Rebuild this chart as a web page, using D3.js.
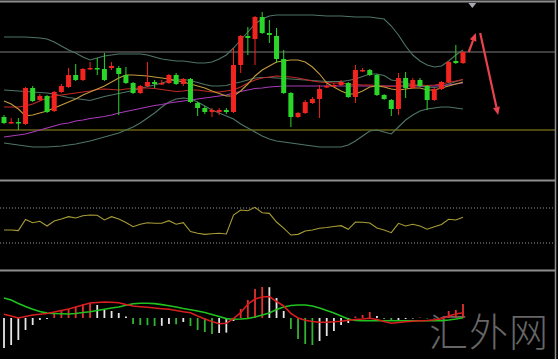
<!DOCTYPE html>
<html><head><meta charset="utf-8">
<script src="https://cdn.jsdelivr.net/npm/d3@7"></script>
<style>html,body{margin:0;padding:0;background:#000;overflow:hidden}</style>
</head><body><svg id="c" width="558" height="359"></svg>
<script>
// ---- candles (price units) ----
const openP  = [83,77,78,76,112,100,104,89,108,113, 125,120,131,132,131,132,132,125,117,107, 114,118,116,117,125,116,121,97,92,88, 88,90,88,135,164,161,183,167,164,141, 107,83,87,97,101,113,114,115,117,103, 129,130,125,105,100,91,122,112,120,114, 100,111,118,139,137];
const highP  = [85,82,82,113,114,106,105,109,116,132, 136,132,138,142,147,138,134,133,118,115, 138,120,120,126,127,122,122,98,94,92, 92,92,152,165,173,184,188,180,172,150, 108,88,100,103,115,116,117,120,118,135, 132,131,126,106,101,127,128,122,122,115, 112,119,139,155,149];
const lowP   = [76,76,70,75,98,99,87,88,107,112, 119,119,130,125,119,130,85,116,106,106, 113,112,115,116,115,114,97,84,86,83, 85,86,87,127,145,135,166,157,137,106, 73,82,86,96,82,112,113,114,102,97, 128,124,104,100,84,85,102,111,113,90, 99,110,117,136,136];
const closeP = [77,78,77,112,99,104,88,108,114,125, 120,131,132,131,120,134,126,117,107,114, 118,116,117,125,116,121,98,92,88,90, 90,88,135,164,162,183,167,165,141,107, 83,87,98,101,111,114,115,118,103,130, 130,125,105,101,91,122,112,120,114,100, 111,118,138,137,148];
// ---- overlays ----
const bbUpper = [163,163,163,163,162.5,162,161,158,154,150, 147,143,140,142,144,145,146,146,146,146, 145,143,141,140,139,139,138,137,137,138, 141,145,152,160,168,176,181,184,185,185, 185,185,185,185,184.5,184,184,184,183.5,183, 183,183,182,181,174,165,154,145,139,135, 133,134,139,145,150];
const bbMid = [110,109.5,109,108.5,108,107.5,107,106,104,102.5, 101.5,100.5,99.5,101.5,103.5,105,106.5,108,109.5,111.5, 113.5,115,117,119,120,120.5,119.5,117.5,115.5,114, 114,114.5,116.5,118,120,122,122.5,122.5,122,121.5, 121,120.5,120,119.5,119,118.5,118.5,118.5,119.5,121, 123.5,126,126,124.5,120,119,117,115,114,113, 112.5,113.5,116,118.5,120.5];
const bbLower = [57,56,55,54,53,53,53,53.5,54,55, 56,57.5,59,61,63,65,67,70,73,77, 82,87,93,98,101,102,101,98,94,90, 87,84,81,76,72,68,64,61,59,58, 57,56,55,54,53,53,53,53,55,59, 64,69,70,68,66,73,80,85,89,91, 92,93,93,92,91];
const maFast = [99,96,91,84,85,87,89,92,95,98, 101,105,108,111,114,118,122,125,125,124.5, 124,123,122,121,119.5,118,116,114,112,109, 106.5,104,104,109,116,124,130,134,138,139, 140,140,138,133,126,117,113,109,106,106, 109,113,114,113,111,110,111,112,112,110, 110,112,114,116,118];
const maMid = [93,93,93,94,96,99,102,104,105,106, 107,108,109,110.5,111,110.5,110,111,111.5,112, 112,111.5,110.5,109.5,108.5,109,110,110,109,108, 108,109,110,113,117,120,122,123,124,123.5, 123,122,120.5,119,118,117.5,117,117,116,115.5, 115,115,114.5,114,113.5,114,114.5,115,115,114.5, 115,116,117.5,119,120.5];
const maSlow = [63,64,65,66,68,70,72,74,76,77, 79,80,81.5,82.5,83.5,85,87,88.5,90,91.5, 93,94.5,95.5,97,98,99,100,101,102,103, 104,105,107,108.5,110,111.5,112,113,113.5,114, 114,114,114,114,114,114,114,114,114,114, 114,114,114,114,114,114,114,114,114,114, 114,114.5,115,116,117];
const levelLines = [148, 70];
// ---- RSI ----
const rsi = [44.9,44.9,44.1,56.9,53.2,54.8,49.4,55.1,57.4,60.1, 58.6,61.2,62.0,61.7,56.3,60.1,57.4,53.4,48.6,51.4, 53.2,52.5,52.5,55.5,51.4,53.2,43.1,41.1,39.9,40.6, 41.1,40.3,62.0,67.7,66.9,70.8,64.6,63.9,54.0,47.1, 39.1,39.9,43.7,44.9,46.8,47.7,48.9,49.8,45.7,54.0, 53.7,52.9,47.1,44.9,41.8,52.5,49.4,51.4,49.4,45.7, 48.6,51.1,57.1,56.3,59.4];
const rsiLevels = [70, 30];
// ---- MACD ----
const dif = [0.038,0.02,0,0.015,0.03,0.037,0.045,0.06,0.075,0.09, 0.11,0.13,0.15,0.155,0.16,0.157,0.152,0.135,0.12,0.113, 0.107,0.10,0.093,0.087,0.075,0.063,0.053,0.02,-0.01,-0.035, -0.057,-0.053,-0.005,0.053,0.14,0.19,0.21,0.215,0.165,0.12, 0.047,0,-0.023,-0.035,-0.043,-0.042,-0.038,-0.033,-0.023,-0.015, -0.01,-0.003,-0.015,-0.035,-0.053,-0.045,-0.038,-0.033,-0.028,-0.025, -0.018,-0.007,0.02,0.04,0.053];
const dea = [0.201,0.18,0.145,0.115,0.088,0.065,0.049,0.045,0.042,0.04, 0.045,0.055,0.063,0.075,0.088,0.10,0.11,0.127,0.143,0.147, 0.147,0.144,0.134,0.123,0.11,0.095,0.083,0.07,0.055,0.036, 0.015,-0.006,-0.013,-0.01,-0.005,0.01,0.03,0.05,0.085,0.11, 0.125,0.13,0.13,0.12,0.10,0.075,0.05,0.02,-0.01,-0.025, -0.027,-0.027,-0.027,-0.027,-0.027,-0.027,-0.027,-0.027,-0.027,-0.027, -0.027,-0.026,-0.02,-0.01,0.003];
const hist = [-0.30,-0.27,-0.22,-0.12,-0.07,-0.02,-0.01,0.05,0.07,0.09, 0.11,0.14,0.15,0.13,0.09,0.07,0.05,0.015,-0.06,-0.07, -0.072,-0.08,-0.078,-0.06,-0.063,-0.04,-0.08,-0.12,-0.14,-0.16, -0.15,-0.146,-0.03,0.09,0.18,0.29,0.31,0.308,0.20,0.07, -0.11,-0.21,-0.26,-0.27,-0.23,-0.18,-0.13,-0.07,-0.05,0.015, 0.03,0.06,0.02,-0.01,-0.03,-0.02,-0.01,-0.005,0.005,-0.005, -0.003,0.01,0.07,0.08,0.14];
// ---- annotations (index, price) ----
const arrowUp = [[64.8,148],[65.8,167]];
const arrowDown = [[66.4,167],[68.9,85]];
const watermark = "汇外网";

const svg = d3.select("#c");
const W = 558;
svg.append("rect").attr("width",W).attr("height",359).attr("fill","#000");

const x = d3.scaleLinear().domain([0,64]).range([4,463]);
const yP = d3.scaleLinear().domain([21,197]).range([179,3]);
const yR = d3.scaleLinear().domain([0,100]).range([269.25,181.75]);
const yM = d3.scaleLinear().domain([-0.39,0.47]).range([357,271]);
const idx = d3.range(openP.length);

const RED = "#f2241f", GREEN = "#2bd62b";

const defs = svg.append("defs");
[["pMain",3,178],["pRsi",182,268],["pMacd",272,358]].forEach(([id,a,b])=>{
  defs.append("clipPath").attr("id",id).append("rect").attr("x",0).attr("y",a).attr("width",555).attr("height",b-a);
});

// watermark (behind)
svg.append("text").attr("x",429).attr("y",346).attr("font-family","'Noto Sans CJK SC'")
  .attr("font-size",39).attr("font-weight",300).attr("fill","#666666").attr("letter-spacing",1).text(watermark);

const main = svg.append("g").attr("clip-path","url(#pMain)");
// level lines
main.selectAll("line.lvl").data(levelLines).join("line")
  .attr("x1",0).attr("x2",555).attr("y1",d=>yP(d)).attr("y2",d=>yP(d))
  .attr("stroke",(d,i)=>i===0?"#7e7e7e":"#9c931a").attr("stroke-width",1);

const line = (arr, yS) => d3.line().x((d,i)=>x(i)).y(d=>yS(d))(arr);
[[bbUpper,"#4f7565"],[bbMid,"#4f7565"],[bbLower,"#4f7565"],[maSlow,"#a83ab8"],[maMid,"#c02a26"],[maFast,"#c49a3c"]].forEach(([a,c])=>{
  main.append("path").attr("d",line(a,yP)).attr("fill","none").attr("stroke",c).attr("stroke-width",1.1);
});

const cg = main.selectAll("g.cd").data(idx).join("g");
cg.append("line").attr("x1",i=>x(i)).attr("x2",i=>x(i))
  .attr("y1",i=>yP(highP[i])).attr("y2",i=>yP(lowP[i]))
  .attr("stroke",i=>closeP[i]>=openP[i]?RED:GREEN).attr("stroke-width",1);
cg.append("rect").attr("x",i=>x(i)-2.5).attr("width",5)
  .attr("y",i=>yP(Math.max(openP[i],closeP[i])))
  .attr("height",i=>Math.max(1.5,Math.abs(yP(openP[i])-yP(closeP[i]))))
  .attr("fill",i=>closeP[i]>=openP[i]?RED:GREEN);

// arrows
const ARW = "#e8434c";
[arrowUp, arrowDown].forEach(a=>{
  const [x1,y1] = [x(a[0][0]), yP(a[0][1])], [x2,y2] = [x(a[1][0]), yP(a[1][1])];
  const ang = Math.atan2(y2-y1,x2-x1), L = 8, Wd = 3.5;
  const bx = x2 - L*Math.cos(ang), by = y2 - L*Math.sin(ang);
  main.append("line").attr("x1",x1).attr("y1",y1).attr("x2",bx).attr("y2",by).attr("stroke",ARW).attr("stroke-width",2.2);
  const px = -Math.sin(ang)*Wd, py = Math.cos(ang)*Wd;
  main.append("path").attr("d",`M${x2},${y2}L${bx+px},${by+py}L${bx-px},${by-py}Z`).attr("fill",ARW);
});
// shift marker
const mx = x(65.3);
svg.append("path").attr("d",`M${mx-4},3L${mx+4},3L${mx},8Z`).attr("fill","#a8a8b0");

// RSI
const rs = svg.append("g").attr("clip-path","url(#pRsi)");
rs.selectAll("line").data(rsiLevels).join("line").attr("x1",0).attr("x2",555)
  .attr("y1",d=>yR(d)).attr("y2",d=>yR(d)).attr("stroke","#9a9a9a").attr("stroke-width",1).attr("stroke-dasharray","1,2");
rs.append("path").attr("d",line(rsi,yR)).attr("fill","none").attr("stroke","#a89c36").attr("stroke-width",1.1);

// MACD
const mg = svg.append("g").attr("clip-path","url(#pMacd)");
const barColor = i => { const v = hist[i], p = i>0?hist[i-1]:null;
  if (p===null) return "#e6e6e6";
  if (v>0 && v>=p) return "#e23030";
  if (v<0 && v<=p) return "#32b432";
  return "#e6e6e6"; };
mg.selectAll("rect").data(idx).join("rect")
  .attr("x",i=>x(i)-0.9).attr("width",1.8)
  .attr("y",i=>Math.min(yM(0),yM(hist[i]))).attr("height",i=>Math.abs(yM(hist[i])-yM(0)))
  .attr("fill",barColor);
mg.append("path").attr("d",line(dea,yM)).attr("fill","none").attr("stroke","#1fc21f").attr("stroke-width",1.6);
mg.append("path").attr("d",line(dif,yM)).attr("fill","none").attr("stroke","#d81e1e").attr("stroke-width",1.6);

// frame
const fr = svg.append("g").attr("stroke","#8e8e8e");
fr.append("line").attr("x1",0).attr("x2",556).attr("y1",1.5).attr("y2",1.5).attr("stroke-width",2);
fr.append("line").attr("x1",0).attr("x2",556).attr("y1",180.5).attr("y2",180.5).attr("stroke-width",2);
fr.append("line").attr("x1",0).attr("x2",556).attr("y1",270.5).attr("y2",270.5).attr("stroke-width",2);
fr.append("line").attr("x1",555.5).attr("x2",555.5).attr("y1",0).attr("y2",359).attr("stroke-width",1.5);
</script></body></html>
